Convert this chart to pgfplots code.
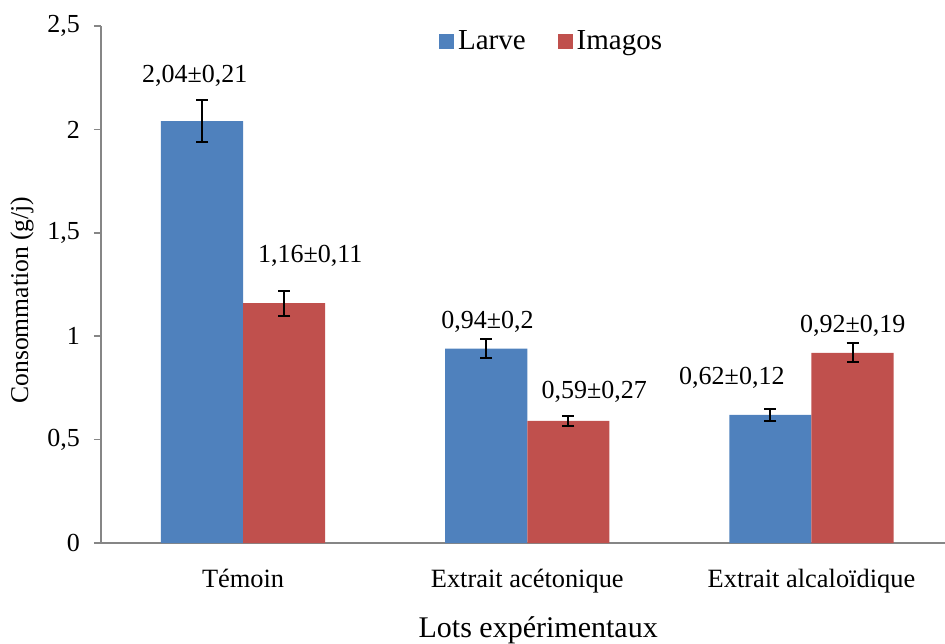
\documentclass[border=0pt]{standalone}
\usepackage{fontspec}
\setmainfont{Liberation Serif}
\usepackage{pgfplots}
\pgfplotsset{compat=1.18}
\definecolor{cblue}{HTML}{4F81BD}
\definecolor{cred}{HTML}{C0504D}
\definecolor{axgray}{HTML}{868686}
\newcommand{\tickfont}{\fontsize{13.2}{15}\selectfont}
\newcommand{\ytfont}{\fontsize{13}{15}\selectfont}
\newcommand{\lblfont}{\fontsize{13}{15}\selectfont}
\newcommand{\legfont}{\fontsize{14.5}{17}\selectfont}
\newcommand{\xlfont}{\fontsize{15}{18}\selectfont}
\newcommand{\ylfont}{\fontsize{12.8}{15}\selectfont}
\begin{document}
\begin{tikzpicture}
\useasboundingbox (-50.5pt,-50pt) rectangle (422pt,271.5pt);
\begin{axis}[
  at={(0,0)}, anchor=south west,
  scale only axis, width=422pt, height=258.5pt,
  xmin=-0.5, xmax=2.47, ymin=0, ymax=2.5,
  axis x line*=bottom, axis y line*=left,
  axis line style={axgray, line width=0.8pt},
  xtick={0,1,2},
  xticklabels={Témoin, Extrait acétonique, Extrait alcaloïdique},
  x tick style={draw=none},
  extra x ticks={0.5,1.5},
  extra x tick labels={},
  extra x tick style={tick style={draw=axgray, line width=0.8pt}, major tick length=4pt, tick align=outside},
  ytick={0,0.5,1,1.5,2,2.5},
  y tick style={axgray, line width=0.8pt},
  major tick length=3.5pt, tick align=outside,
  /pgf/number format/assume math mode=true,
  /pgf/number format/use comma,
  yticklabel style={font=\ytfont, xshift=-3.5pt},
  xticklabel style={font=\tickfont, yshift=-6pt},
  ylabel={Consommation (g/j)},
  xlabel={Lots expérimentaux},
  ylabel style={font=\ylfont, at={(rel axis cs:-0.0936,0.47)}, anchor=center, rotate=0},
  xlabel style={font=\xlfont, at={(rel axis cs:0.518,-0.168)}, anchor=center},
  ybar, bar width=0.289, bar shift auto,
  legend columns=2,
  legend style={draw=none, fill=none, font=\legfont, at={(rel axis cs:0.393,1.008)}, anchor=north west,
    /tikz/every even column/.append style={column sep=14pt}},
  legend image code/.code={\fill[#1] (0pt,-3.75pt) rectangle (7.5pt,3.75pt);},
  error bars/error bar style={black, line width=1pt},
  error bars/error mark options={rotate=90, mark size=3pt, line width=1pt, black},
]
\addplot[fill=cblue, draw=none, bar shift=-0.1445, error bars/.cd, y dir=both, y explicit]
  table[x=x, y=y, y error=e] {
  x y e
  0 2.04 0.10
  1 0.94 0.045
  2 0.62 0.03
};
\addlegendentry{Larve}
\addplot[fill=cred, draw=none, bar shift=0.1445, error bars/.cd, y dir=both, y explicit]
  table[x=x, y=y, y error=e] {
  x y e
  0 1.16 0.06
  1 0.59 0.025
  2 0.92 0.045
};
\addlegendentry{Imagos}
\node[font=\lblfont] at (axis cs:-0.17,2.26) {2,04±0,21};
\node[font=\lblfont] at (axis cs:0.236,1.39) {1,16±0,11};
\node[font=\lblfont] at (axis cs:0.86,1.07) {0,94±0,2};
\node[font=\lblfont] at (axis cs:1.236,0.73) {0,59±0,27};
\node[font=\lblfont] at (axis cs:1.72,0.80) {0,62±0,12};
\node[font=\lblfont] at (axis cs:2.145,1.05) {0,92±0,19};
\end{axis}
\end{tikzpicture}
\end{document}
